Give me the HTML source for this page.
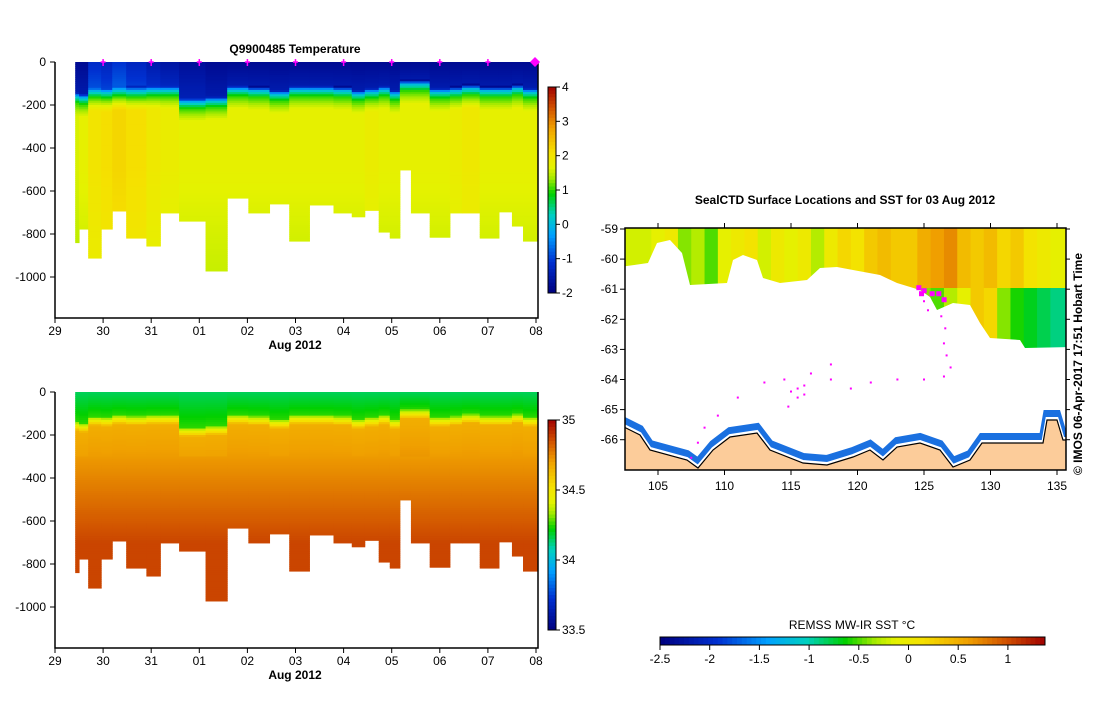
<!DOCTYPE html>
<html><head><meta charset="utf-8"><style>
body{margin:0;background:#fff}
svg text{font-family:"Liberation Sans",sans-serif;font-size:12px;fill:#000}
</style></head><body>
<svg id="s" width="1099" height="700" xmlns="http://www.w3.org/2000/svg">
<g id="top"></g>
<g id="bot"></g>
<g id="map"></g>
<text x="295" y="53" text-anchor="middle" font-weight="bold">Q9900485  Temperature</text>
<text x="845" y="204" text-anchor="middle" font-weight="bold">SealCTD Surface Locations and SST for 03 Aug 2012</text>
<text transform="translate(1082,475) rotate(-90)" font-weight="bold">© IMOS 06-Apr-2017 17:51 Hobart Time</text>
<text x="852" y="629" text-anchor="middle">REMSS MW-IR SST °C</text>
</svg>
<script>
// profile data
const colStart=[0.42,0.5,0.69,0.96,1.19,1.48,1.9,2.19,2.58,3.13,3.58,4.02,4.46,4.87,5.29,5.79,6.17,6.44,6.73,6.96,7.17,7.4,7.79,8.21,8.46,8.83,9.23,9.5,9.73];
const colEnd=[0.5,0.69,0.96,1.19,1.48,1.9,2.19,2.58,3.13,3.58,4.02,4.46,4.87,5.29,5.79,6.17,6.44,6.73,6.96,7.17,7.4,7.79,8.21,8.46,8.83,9.23,9.5,9.73,10.02];
const bottomDepth=[840,777,912,777,693,819,856,702,740,972,633,702,660,833,665,702,720,690,791,819,502,702,815,702,702,819,697,763,833];
const mixedDepth=[140,147,116,120,110,115,110,110,167,160,109,115,130,110,110,115,130,120,110,130,84,84,120,115,105,115,115,105,120];
const surfaceT=[-1.8,-1.8,-1.2,-1.3,-1.1,-1.3,-1.5,-1.6,-1.7,-1.8,-1.8,-1.8,-1.8,-1.8,-1.8,-1.8,-1.8,-1.8,-1.8,-1.8,-1.8,-1.8,-1.8,-1.8,-1.8,-1.8,-1.8,-1.8,-1.8];
const deepT=[1.6,1.7,2.0,2.1,2.2,2.1,1.9,1.8,1.7,1.7,1.7,1.7,1.7,1.7,1.7,1.7,1.7,1.8,1.7,1.7,1.7,1.7,1.7,1.8,1.9,1.7,1.7,1.7,1.7];
const dayTicks=["29","30","31","01","02","03","04","05","06","07","08"];
const depthTicks=[0,-200,-400,-600,-800,-1000];
const tempBarTicks=[4,3,2,1,0,-1,-2];
const salBarTicks=[35,34.5,34,33.5];
// map data
const sstLon=[103,104,105,106,107,108,109,110,111,112,113,114,115,116,117,118,119,120,121,122,123,124,125,126,127,128,129,130,131,132,133,134,135,136];
const sstNorth=[-0.2,-0.2,-0.1,0,-0.4,-0.3,-0.5,-0.1,0,0.1,-0.2,0,-0.1,0,-0.3,0,0.2,0.1,0.3,0.4,0.3,0.3,0.5,0.6,0.7,0.4,0.3,0.4,0.2,0.3,0.1,0,-0.1,-0.1];
const sstSouth=[-0.1,-0.1,-0.2,-0.3,-0.5,-0.6,-0.3,-0.3,-0.2,-0.4,-0.5,-0.3,-0.2,-0.1,-0.2,-0.3,0,0.2,0.3,0.1,0.2,-0.3,-0.4,-0.5,-0.3,-0.1,0.3,0.2,-0.4,-0.6,-0.7,-0.8,-0.9,-0.9];
const trackLon=[124.5,124.7,124.9,125.5,126,126.4,125,125.3,126.3,126.6,126.5,126.7,127,126.5,125,123,121,119.5,118,116.5,118,116,115.5,114.8,115,116,115.5,114.5,113,111,109.5,108.5,108,107.5];
const trackLat=[-60.9,-61.1,-61.0,-61.1,-61.1,-61.3,-61.4,-61.7,-61.9,-62.3,-62.8,-63.2,-63.6,-63.9,-64.0,-64.0,-64.1,-64.3,-64.0,-63.8,-63.5,-64.5,-64.6,-64.9,-64.4,-64.2,-64.3,-64.0,-64.1,-64.6,-65.2,-65.6,-66.1,-66.6];
const mapLatTicks=[-59,-60,-61,-62,-63,-64,-65,-66];
const mapLonTicks=[105,110,115,120,125,130,135];
const sstBarTicks=[-2.5,-2,-1.5,-1,-0.5,0,0.5,1];

const NS="http://www.w3.org/2000/svg";
function el(p,t,a){const e=document.createElementNS(NS,t);for(const k in a)e.setAttribute(k,a[k]);p.appendChild(e);return e;}
const stops=[[0,[0,0,127]],[0.15,[0,48,208]],[0.28,[0,160,255]],[0.38,[0,208,192]],[0.48,[0,208,0]],[0.56,[170,235,0]],[0.61,[228,242,0]],[0.68,[245,225,0]],[0.8,[240,160,0]],[0.9,[208,80,0]],[1,[160,0,0]]];
function cmap(f){f=Math.max(0,Math.min(1,f));for(let i=1;i<stops.length;i++){if(f<=stops[i][0]){const a=stops[i-1],b=stops[i];const t=(f-a[0])/(b[0]-a[0]);const c=a[1].map((v,j)=>Math.round(v+(b[1][j]-v)*t));return `rgb(${c})`;}}return 'rgb(160,0,0)';}

function panel(g,y0,valFn,vmin,vmax,barTicks,barTop,barBot,name){
  const xS=d=>55+d*48.1, yS=z=>y0+z*0.215;
  const xAxisY=y0+256;
  for(let i=0;i<colStart.length;i++){
    const x1=xS(colStart[i]),x2=xS(colEnd[i]);
    for(let z=0;z<bottomDepth[i];z+=10){
      const r=el(g,'rect',{x:x1,y:yS(z),width:x2-x1+0.5,height:Math.min(10,bottomDepth[i]-z)*0.215+0.5,fill:cmap((valFn(i,z+5)-vmin)/(vmax-vmin))});
      
      
    }
  }
  const ax=el(g,'path',{d:`M55,${y0} V${xAxisY} H538 V${y0}`,fill:'none',stroke:'#000','stroke-width':1.5});
  
  
  depthTicks.forEach(v=>{const y=yS(-v);el(g,'line',{x1:50,x2:55,y1:y,y2:y,stroke:'#000'});
    const t=el(g,'text',{x:46,y:y+4,'text-anchor':'end'});t.textContent=v;
    
    });
  dayTicks.forEach((d,i)=>{const x=xS(i);el(g,'line',{x1:x,x2:x,y1:xAxisY,y2:xAxisY+5,stroke:'#000'});
    const t=el(g,'text',{x:x,y:xAxisY+17,'text-anchor':'middle'});t.textContent=d;
    
    });
  const xl=el(g,'text',{x:295,y:xAxisY+31,'text-anchor':'middle','font-weight':'bold'});xl.textContent='Aug 2012';
  
  
  const n=60;for(let k=0;k<n;k++){el(g,'rect',{x:548,y:barTop+(barBot-barTop)*k/n,width:8,height:(barBot-barTop)/n+0.5,fill:cmap(1-(k+0.5)/n)});}
  const cb=el(g,'rect',{x:548,y:barTop,width:8,height:barBot-barTop,fill:'none',stroke:'#000'});
  
  
  barTicks.forEach(v=>{const y=barBot-(v-vmin)/(vmax-vmin)*(barBot-barTop);el(g,'line',{x1:556,x2:560,y1:y,y2:y,stroke:'#000'});
    const t=el(g,'text',{x:562,y:y+4});t.textContent=v;
    
    });
}
function tempAt(i,z){const m=mixedDepth[i];if(z<m)return surfaceT[i]+(z/m)*0.3;if(z<m+20)return surfaceT[i]+(z-m)/20*(0-surfaceT[i]);if(z<m+50)return (z-m-20)/30*1.0;if(z<m+110)return 1+(z-m-50)/60*(deepT[i]-1);return deepT[i]-Math.max(0,z-500)/1000*0.4;}
function salAt(i,z){const m=mixedDepth[i];if(z<m)return 34.15+z/m*0.1;if(z<m+40)return 34.3+(z-m)/40*0.35;if(z<300)return 34.66+(z-m-40)/150*0.05;return Math.min(34.87,34.71+(z-300)/400*0.16);}
const topG=document.getElementById('top'),botG=document.getElementById('bot');
panel(topG,62,tempAt,-2,4,tempBarTicks,87,293,'temperature');
panel(botG,392,salAt,33.5,35,salBarTicks,420,630,'salinity');
for(let d=1;d<=9;d++){const x=55+d*48.1;el(topG,'path',{d:`M${x},59 V66 M${x-2.5},62 H${x+2.5}`,stroke:'#f0f',fill:'none','stroke-width':1.5});}
const dm=el(topG,'path',{d:'M535,57 L540,62 L535,67 L530,62Z',fill:'#f0f'});



// map
const mg=document.getElementById('map');
const mx=lon=>658+(lon-105)*13.3, my=lat=>229+(-59-lat)*30.1;
const cp=el(mg,'clipPath',{id:'mc'});
el(cp,'rect',{x:625,y:228,width:441,height:242});
const mb=el(mg,'g',{'clip-path':'url(#mc)'});
sstLon.forEach((lon,i)=>{const x=mx(lon-0.5);
  el(mb,'rect',{x:x,y:228,width:13.8,height:60,fill:cmap((sstNorth[i]+2.5)/3.87)});
  const r=el(mb,'rect',{x:x,y:288,width:13.8,height:70,fill:cmap((sstSouth[i]+2.5)/3.87)});
  
  });
const ice=el(mb,'path',{d:'M620,267 L648,263 L657,243 L670,240 L682,253 L690,285 L727,283 L733,260 L743,255 L757,260 L763,278 L780,283 L807,280 L820,268 L837,267 L853,270 L880,275 L897,283 L920,290 L930,297 L937,310 L953,303 L970,305 L980,323 L990,338 L1020,340 L1025,348 L1070,347 L1070,475 L620,475Z',fill:'#fff'});


const coast='M620,425 L640,435 L650,450 L687,460 L698,468 L713,450 L730,437 L757,433 L770,450 L803,463 L827,465 L853,457 L870,450 L883,460 L897,447 L920,443 L940,450 L953,467 L970,460 L982,443 L1020,443 L1043,443 L1047,420 L1057,420 L1063,440 L1070,440';
el(mb,'path',{d:coast,fill:'none',stroke:'#1a70e0','stroke-width':8,transform:'translate(0,-6)'});
el(mb,'path',{d:coast,fill:'none',stroke:'#fff','stroke-width':3,transform:'translate(0,-1.5)'});
const land=el(mb,'path',{d:coast+' L1070,475 L620,475Z',fill:'#fccc9a',stroke:'#000','stroke-width':1.2});


trackLon.forEach((lon,i)=>{const r=el(mb,'rect',{x:mx(lon)-1,y:my(trackLat[i])-1,width:i<6?5:2,height:i<6?5:2,fill:'#f0f'});
  
  });
const fr=el(mg,'rect',{x:625,y:228,width:441,height:242,fill:'none',stroke:'#000','stroke-width':1.5});


mapLatTicks.forEach(v=>{const y=my(v);el(mg,'line',{x1:620,x2:625,y1:y,y2:y,stroke:'#000'});el(mg,'line',{x1:1066,x2:1070,y1:y,y2:y,stroke:'#000'});
  const t=el(mg,'text',{x:618,y:y+4,'text-anchor':'end'});t.textContent=v;
  
  });
mapLonTicks.forEach(v=>{const x=mx(v);el(mg,'line',{x1:x,x2:x,y1:470,y2:475,stroke:'#000'});el(mg,'line',{x1:x,x2:x,y1:223,y2:228,stroke:'#000'});
  const t=el(mg,'text',{x:x,y:490,'text-anchor':'middle'});t.textContent=v;
  
  });
const bx=v=>660+(v+2.5)*99.4;
for(let k=0;k<80;k++){el(mg,'rect',{x:660+385*k/80,y:637,width:385/80+0.5,height:8,fill:cmap((k+0.5)/80)});}
const sb=el(mg,'rect',{x:660,y:637,width:385,height:8,fill:'none',stroke:'#000'});


sstBarTicks.forEach(v=>{const x=bx(v);el(mg,'line',{x1:x,x2:x,y1:645,y2:650,stroke:'#000'});
  const t=el(mg,'text',{x:x,y:663,'text-anchor':'middle'});t.textContent=v;
  
  });
</script>
</body></html>
